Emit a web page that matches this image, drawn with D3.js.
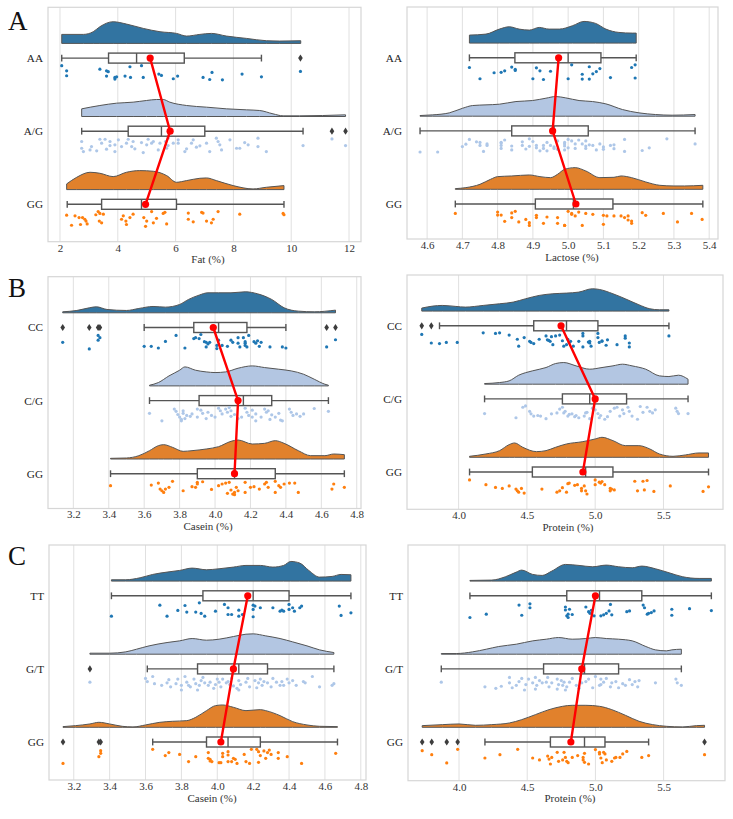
<!DOCTYPE html>
<html><head><meta charset="utf-8">
<script src="https://cdn.jsdelivr.net/npm/d3@7/dist/d3.min.js"></script>
<style>body{margin:0;background:#fff}text{font-family:"Liberation Serif","Times New Roman",serif}</style>
</head><body><svg id="chart" width="733" height="819"></svg>
<script>
// ---------------- DATA ----------------
const fatCats = ["AA","A/G","GG"];
const fatTicks = [2,4,6,8,10,12];
const fatBox = [[2.06,3.68,4.65,6.30,8.97],[2.75,4.36,5.51,7.01,10.41],[2.25,3.44,4.82,6.03,9.75]];
const fatOut = [[10.32],[11.41,11.88],[]];
const fatMean = [5.12,5.81,4.96];
const fatDens = [
 [[2.06,27],[2.81,27],[3.15,35],[3.38,50],[3.84,65],[4.30,58],[4.88,45],[5.46,35],[6.03,30],[6.38,22],[6.84,27],[7.24,30],[7.76,22],[8.45,15],[9.14,8],[9.60,7],[10.33,8]],
 [[2.75,23],[3.38,33],[3.96,40],[4.53,43],[4.99,48],[5.34,51],[5.57,51],[5.80,43],[6.38,33],[7.07,28],[7.76,23],[8.45,20],[8.91,18],[9.37,8],[9.72,2],[10.29,2],[11.88,5]],
 [[2.23,17],[2.58,37],[3.04,52],[3.38,49],[3.84,39],[4.30,52],[4.76,57],[5.23,55],[5.69,42],[6.03,22],[6.38,27],[6.84,34],[7.07,35],[7.41,27],[7.99,12],[8.68,2],[9.14,7],[9.75,12]]
];
const fatPts = [
 [[2.06,.04],[2.23,.38],[2.23,.71],[3.38,.27],[3.61,.38],[3.67,.44],[3.61,.73],[3.90,.82],[3.90,.93],[3.96,.78],[4.42,.11],[4.25,.73],[4.44,.82],[4.82,.04],[4.88,.82],[5.42,.6],[5.51,.69],[5.92,.91],[6.07,.73],[6.95,.82],[7.18,.96],[7.26,.49],[7.62,.98],[8.30,.6],[8.97,.78],[10.32,.42]],
 [[2.75,.22],[2.75,.67],[2.81,.89],[3.04,.78],[3.09,.56],[3.38,.07],[3.44,.33],[3.56,.07],[3.73,.22],[3.73,.49],[3.90,.44],[3.90,.89],[4.02,.11],[4.13,.56],[4.30,.33],[4.36,.07],[4.48,.56],[4.53,.22],[4.59,.71],[4.88,.96],[5.00,.44],[5.05,.07],[5.17,.33],[5.23,.22],[5.40,.78],[5.46,.33],[5.65,.22],[5.69,.67],[5.74,0],[5.74,.49],[5.92,.33],[6.09,.11],[6.09,.33],[6.32,.89],[6.38,.71],[6.55,.33],[6.61,.11],[6.72,.6],[7.07,.33],[7.18,.89],[7.41,0],[7.47,.22],[7.53,.44],[7.59,.78],[7.88,.11],[8.11,.67],[8.22,.67],[8.39,.29],[8.51,.44],[8.85,0],[8.85,.56],[9.14,.89],[10.41,.49],[11.41,.05],[11.88,.49],[3.27,.84],[3.61,.73],[4.82,.29],[6.84,.51]],
 [[2.23,.26],[2.40,.93],[2.66,.42],[2.78,.42],[2.86,.53],[2.90,.65],[2.94,.84],[3.24,.23],[3.32,.02],[3.36,.65],[3.44,.77],[3.38,.14],[3.50,.19],[4.13,.53],[4.19,.30],[4.28,.65],[4.42,.42],[4.30,.88],[4.53,.19],[4.90,.42],[5.00,.65],[5.17,.02],[5.23,.77],[5.34,.47],[5.57,.14],[5.63,.07],[5.69,.84],[6.44,.12],[6.44,.53],[6.61,.70],[6.90,.07],[6.95,.12],[7.07,.65],[7.24,.77],[7.30,.53],[7.47,.02],[8.22,.19],[9.72,.14],[9.75,.23],[2.71,.88],[2.52,.30],[4.96,1]]
];

const lactoseCats = ["AA","A/G","GG"];
const lactoseTicks = [4.6,4.7,4.8,4.9,5.0,5.1,5.2,5.3,5.4];
const lactoseBox = [[4.72,4.849,5.0,5.093,5.193],[4.58,4.84,4.96,5.057,5.36],[4.68,4.907,5.015,5.127,5.382]];
const lactoseOut = [[],[],[]];
const lactoseMean = [4.973,4.956,5.022];
const lactoseDens = [
 [[4.72,24],[4.767,27],[4.805,42],[4.833,49],[4.861,42],[4.89,39],[4.918,47],[4.946,42],[4.975,42],[5.012,52],[5.045,65],[5.078,59],[5.107,42],[5.144,32],[5.182,30],[5.193,30]],
 [[4.58,2],[4.616,4],[4.663,10],[4.701,24],[4.729,32],[4.767,34],[4.805,36],[4.852,44],[4.899,47],[4.937,54],[4.965,59],[4.993,55],[5.031,47],[5.069,44],[5.107,37],[5.154,20],[5.201,10],[5.248,5],[5.295,3],[5.36,5]],
 [[4.68,2],[4.71,5],[4.75,15],[4.78,30],[4.80,38],[4.84,40],[4.89,43],[4.92,38],[4.95,35],[4.97,45],[4.99,60],[5.02,65],[5.05,55],[5.09,35],[5.13,36],[5.15,40],[5.18,35],[5.22,22],[5.26,12],[5.30,10],[5.33,10],[5.382,12]]
];
const lactosePts = [
 [[4.72,.18],[4.75,.93],[4.79,.53],[4.81,.5],[4.82,.4],[4.84,.15],[4.85,.3],[4.85,.38],[4.90,.93],[4.91,.2],[4.92,.4],[4.93,.98],[4.95,.43],[5.00,.93],[5.01,0],[5.04,.63],[5.04,.95],[5.06,.13],[5.06,.95],[5.07,.6],[5.08,.45],[5.09,.25],[5.12,.85],[5.18,.18],[5.19,0],[5.19,.88]],
 [[4.58,.94],[4.63,.94],[4.70,.58],[4.71,.42],[4.72,.10],[4.74,.26],[4.75,.30],[4.75,.50],[4.76,.90],[4.77,.50],[4.77,.40],[4.81,.30],[4.81,.70],[4.81,.50],[4.81,.34],[4.82,.14],[4.84,.80],[4.84,.54],[4.87,.26],[4.87,.50],[4.88,.74],[4.89,.06],[4.89,.56],[4.90,.24],[4.91,.66],[4.91,.50],[4.92,.86],[4.93,.50],[4.93,.70],[4.94,.30],[4.94,.86],[4.95,.50],[4.96,.60],[4.96,.70],[4.97,.20],[4.97,.76],[4.99,.40],[4.99,.54],[4.99,.80],[4.99,.30],[5.00,.66],[5.00,.10],[5.01,.20],[5.02,.70],[5.02,.40],[5.03,.14],[5.04,.40],[5.05,.54],[5.05,.70],[5.05,.20],[5.06,.46],[5.07,.50],[5.08,.80],[5.09,.40],[5.10,.60],[5.10,.76],[5.12,.50],[5.13,.46],[5.13,.72],[5.16,.10],[5.16,.90],[5.21,.84],[5.23,.66],[5.28,.06],[5.36,.40]],
 [[4.68,.16],[4.80,.07],[4.80,.27],[4.81,.27],[4.82,.69],[4.84,.13],[4.84,.44],[4.85,.02],[4.86,.73],[4.88,.56],[4.89,.78],[4.89,.96],[4.91,.29],[4.91,.44],[4.93,.82],[4.94,.4],[4.97,.82],[4.97,.44],[4.99,.96],[5.00,.02],[5.01,.22],[5.01,.16],[5.02,.33],[5.03,.07],[5.04,.96],[5.05,.16],[5.07,.22],[5.10,.29],[5.11,.33],[5.13,.33],[5.10,.89],[5.15,.33],[5.16,.44],[5.17,.33],[5.18,.67],[5.18,.82],[5.17,.6],[5.21,.11],[5.22,.29],[5.27,.16],[5.31,.73],[5.35,.16],[5.38,.56],[4.99,.96]]
];

const caseinBCats = ["CC","C/G","GG"];
const caseinTicks = [3.2,3.4,3.6,3.8,4.0,4.2,4.4,4.6,4.8];
const caseinBBox = [[3.60,3.88,4.02,4.18,4.40],[3.63,3.91,4.16,4.32,4.64],[3.41,3.90,4.11,4.34,4.73]];
const caseinBOut = [[3.14,3.29,3.34,3.35,4.63,4.68],[],[]];
const caseinBMean = [3.99,4.13,4.11];
const caseinBDens = [
 [[3.14,3],[3.22,7],[3.29,15],[3.33,18],[3.39,10],[3.50,7],[3.57,13],[3.65,19],[3.72,17],[3.80,25],[3.85,40],[3.91,53],[3.96,60],[4.02,60],[4.09,60],[4.17,63],[4.24,57],[4.32,40],[4.39,15],[4.47,5],[4.56,3],[4.68,8]],
 [[3.63,2],[3.68,10],[3.74,30],[3.80,47],[3.83,57],[3.89,47],[3.95,42],[4.00,40],[4.06,42],[4.13,53],[4.21,60],[4.28,55],[4.36,50],[4.43,45],[4.50,35],[4.56,20],[4.62,5],[4.64,2]],
 [[3.41,2],[3.50,3],[3.57,10],[3.63,25],[3.68,40],[3.71,43],[3.76,35],[3.82,23],[3.87,25],[3.95,30],[4.02,37],[4.09,53],[4.13,57],[4.21,45],[4.28,47],[4.34,55],[4.39,47],[4.47,25],[4.54,10],[4.62,10],[4.67,15],[4.73,13]]
];
const caseinBPts = [
 [[3.14,.52],[3.29,.96],[3.34,.06],[3.35,.21],[3.34,.38],[3.60,.79],[3.64,.79],[3.68,.9],[3.72,.46],[3.78,.06],[3.83,.9],[3.88,.27],[3.89,.21],[3.91,.27],[3.92,0],[3.94,.48],[3.95,.83],[3.95,.52],[3.96,.63],[3.97,.52],[4.01,.94],[4.01,.73],[4.02,.38],[4.04,.73],[4.07,.79],[4.09,.38],[4.10,.52],[4.13,.21],[4.14,.83],[4.16,.21],[4.17,.48],[4.17,.58],[4.19,.06],[4.18,.83],[4.22,.48],[4.23,.58],[4.24,.42],[4.25,.79],[4.26,.52],[4.31,.83],[4.38,.83],[4.40,.9],[4.63,.83],[4.68,.35],[4.17,.73],[4.13,.58]],
 [[3.63,.38],[3.70,.88],[3.77,.1],[3.78,.25],[3.79,.46],[3.80,.63],[3.81,.79],[3.82,.38],[3.81,.88],[3.82,.21],[3.84,.52],[3.86,.58],[3.87,.42],[3.90,.1],[3.90,.63],[3.92,.17],[3.93,.38],[3.95,.73],[3.96,.31],[3.98,.52],[4.00,.63],[4.02,.04],[4.03,.21],[4.04,.42],[4.06,.1],[4.07,.31],[4.08,0],[4.09,.21],[4.11,.46],[4.13,.73],[4.15,.63],[4.17,.04],[4.18,.31],[4.19,.52],[4.21,.63],[4.23,.42],[4.23,.88],[4.26,.63],[4.28,.1],[4.29,.31],[4.31,.79],[4.32,.48],[4.34,.63],[4.36,.38],[4.37,.83],[4.38,.88],[4.42,.1],[4.43,.31],[4.44,.52],[4.46,.42],[4.48,.58],[4.50,.42],[4.56,.06],[4.64,.25],[4.30,.21],[3.83,.73],[4.09,.58],[4.21,.17]],
 [[3.41,.33],[3.64,.29],[3.68,.16],[3.69,.56],[3.70,.67],[3.71,.78],[3.72,.56],[3.74,.44],[3.76,.04],[3.82,.67],[3.87,.4],[3.90,.11],[3.90,.22],[3.93,.07],[3.98,.58],[4.02,.33],[4.04,.22],[4.06,.16],[4.08,.11],[4.09,.62],[4.07,.84],[4.10,.89],[4.11,.78],[4.12,.44],[4.17,.11],[4.17,.78],[4.20,.44],[4.22,.4],[4.25,.56],[4.28,.22],[4.29,.11],[4.30,.44],[4.34,.04],[4.34,.78],[4.36,.33],[4.37,.44],[4.39,.22],[4.42,.16],[4.45,.16],[4.47,.78],[4.66,.56],[4.67,.22],[4.73,.44],[4.11,.93],[4.13,.67],[3.89,.44]]
];

const proteinBCats = ["CC","C/G","GG"];
const proteinTicks = [4.0,4.5,5.0,5.5];
const proteinBBox = [[3.86,4.55,4.79,5.02,5.54],[4.19,4.76,4.96,5.23,5.68],[4.08,4.54,4.93,5.13,5.83]];
const proteinBOut = [[3.73,3.80],[],[]];
const proteinBMean = [4.75,5.00,4.91];
const proteinBDens = [
 [[3.73,9],[3.81,15],[3.88,17],[3.98,14],[4.05,12],[4.18,17],[4.30,22],[4.40,27],[4.49,37],[4.59,47],[4.69,52],[4.79,54],[4.88,57],[4.98,67],[5.03,65],[5.13,52],[5.22,37],[5.32,19],[5.40,7],[5.47,4],[5.54,4]],
 [[4.19,2],[4.30,5],[4.37,10],[4.44,27],[4.54,40],[4.64,50],[4.71,62],[4.77,65],[4.86,55],[4.96,45],[5.05,50],[5.13,55],[5.20,60],[5.27,55],[5.37,45],[5.47,25],[5.54,23],[5.61,27],[5.68,15]],
 [[4.08,3],[4.20,10],[4.30,20],[4.37,38],[4.41,43],[4.47,30],[4.57,17],[4.64,20],[4.71,30],[4.79,40],[4.91,47],[5.00,55],[5.05,60],[5.13,50],[5.22,35],[5.32,35],[5.40,25],[5.47,10],[5.57,3],[5.66,7],[5.76,13],[5.83,13]]
];
const proteinBPts = [
 [[3.73,.11],[3.80,.68],[3.86,.72],[3.91,.64],[3.99,.64],[4.18,0],[4.27,.04],[4.30,0],[4.37,.15],[4.43,.43],[4.48,.32],[4.52,.57],[4.53,.64],[4.55,.72],[4.59,.43],[4.64,.21],[4.65,.47],[4.66,.51],[4.67,.57],[4.68,.26],[4.69,.79],[4.71,.21],[4.74,.15],[4.76,.53],[4.77,.89],[4.79,.79],[4.80,.43],[4.81,.64],[4.82,.57],[4.84,.89],[4.88,.57],[4.91,.04],[4.91,.21],[4.95,.62],[4.96,.68],[4.96,.57],[4.97,.89],[5.02,.04],[5.02,.32],[5.03,.64],[5.05,.53],[5.05,.57],[5.08,.83],[5.09,.47],[5.16,.79],[5.22,.21],[5.22,.36],[5.25,.68],[5.25,.94],[5.54,.21],[4.44,.89],[4.91,.94]],
 [[4.19,.51],[4.47,.09],[4.49,0],[4.52,.36],[4.53,.53],[4.55,.68],[4.58,.64],[4.60,.68],[4.68,.53],[4.72,.47],[4.74,.21],[4.76,.09],[4.77,.47],[4.78,.36],[4.80,.68],[4.81,.57],[4.83,.53],[4.85,.72],[4.86,.64],[4.88,.79],[4.92,.68],[4.93,.47],[4.94,.43],[4.96,.85],[4.98,.15],[5.00,.26],[5.02,.51],[5.04,.64],[5.07,.89],[5.09,.72],[5.11,.36],[5.14,.15],[5.16,.09],[5.18,.68],[5.20,.26],[5.21,.51],[5.24,.09],[5.25,.36],[5.27,.68],[5.31,.89],[5.33,.04],[5.35,.43],[5.38,.09],[5.40,.36],[5.42,.47],[5.44,.26],[5.59,.15],[5.60,.36],[5.61,.51],[5.68,.51],[4.42,.79],[4.64,.85],[5.03,.79]],
 [[4.08,.06],[4.20,.38],[4.27,.56],[4.32,.63],[4.37,.46],[4.42,.67],[4.43,.79],[4.44,.88],[4.46,.63],[4.48,.94],[4.61,.67],[4.72,.88],[4.74,.79],[4.79,.88],[4.80,.31],[4.81,.27],[4.85,.42],[4.87,.38],[4.90,.63],[4.90,.79],[4.92,.46],[4.93,.79],[5.00,.06],[5.00,.38],[5.03,.21],[5.04,.27],[5.05,.17],[5.07,.38],[5.11,.63],[5.11,.79],[5.12,.67],[5.14,.73],[5.29,.15],[5.31,.79],[5.35,.15],[5.36,.73],[5.38,.1],[5.43,.83],[5.55,.46],[5.79,.83],[5.83,.52],[4.76,.58],[4.94,1]]
];

const caseinCCats = ["TT","G/T","GG"];
const caseinCBox = [[3.41,3.92,4.20,4.40,4.745],[3.61,3.89,4.12,4.28,4.65],[3.64,3.94,4.06,4.24,4.67]];
const caseinCOut = [[],[3.29],[3.14,3.34,3.35]];
const caseinCMean = [4.17,4.09,4.02];
const caseinCDens = [
 [[3.41,4],[3.49,4],[3.57,10],[3.64,20],[3.72,27],[3.79,32],[3.86,39],[3.94,34],[4.01,37],[4.09,42],[4.16,47],[4.24,47],[4.31,42],[4.37,47],[4.41,59],[4.46,54],[4.51,32],[4.57,12],[4.64,14],[4.69,20],[4.745,19]],
 [[3.29,3],[3.40,3],[3.49,7],[3.55,15],[3.62,25],[3.72,35],[3.79,40],[3.86,47],[3.94,42],[4.01,45],[4.09,53],[4.16,60],[4.20,61],[4.27,55],[4.35,47],[4.42,37],[4.50,25],[4.57,13],[4.65,5]],
 [[3.14,2],[3.21,5],[3.29,10],[3.34,15],[3.40,10],[3.47,3],[3.53,1],[3.60,7],[3.68,15],[3.75,18],[3.83,20],[3.88,30],[3.94,50],[3.99,65],[4.03,67],[4.09,60],[4.16,50],[4.24,53],[4.27,50],[4.35,35],[4.42,17],[4.50,7],[4.57,3],[4.67,2]]
];
const caseinCPts = [
 [[3.41,.89],[3.68,.16],[3.72,.89],[3.78,.51],[3.82,.18],[3.83,.62],[3.88,.62],[3.90,0],[3.91,.71],[3.93,.89],[3.99,.56],[4.06,.33],[4.06,.78],[4.08,.78],[4.12,.89],[4.14,.78],[4.20,.16],[4.20,.44],[4.20,.93],[4.21,.22],[4.24,.33],[4.31,.33],[4.35,.56],[4.36,.49],[4.37,.56],[4.40,.11],[4.40,.44],[4.42,.33],[4.43,.56],[4.46,.33],[4.47,.22],[4.04,.11],[4.12,.49],[4.68,.22],[4.69,.84],[4.745,.67]],
 [[3.29,.42],[3.60,.17],[3.61,.38],[3.64,.04],[3.65,.52],[3.69,.63],[3.72,.46],[3.73,.25],[3.74,.73],[3.77,.52],[3.78,.21],[3.80,.63],[3.82,.04],[3.83,.42],[3.84,.63],[3.85,.73],[3.87,.21],[3.88,.52],[3.90,.63],[3.91,.31],[3.92,.1],[3.93,.46],[3.95,.63],[3.96,.42],[3.98,.83],[3.99,.58],[4.00,.21],[4.01,.42],[4.02,.73],[4.03,.21],[4.05,.46],[4.06,.38],[4.07,.58],[4.08,.17],[4.09,.67],[4.11,.83],[4.12,.31],[4.13,.58],[4.16,.42],[4.17,.17],[4.18,.73],[4.21,.31],[4.22,.79],[4.23,.46],[4.24,.21],[4.25,.63],[4.26,.38],[4.28,.46],[4.30,.73],[4.31,.17],[4.33,.42],[4.35,.63],[4.36,.38],[4.37,.63],[4.39,.21],[4.40,.46],[4.42,.31],[4.44,.63],[4.48,.38],[4.49,.46],[4.53,.04],[4.57,.73],[4.64,.63],[4.65,.52],[3.89,.94],[4.12,.94],[3.80,.94]],
 [[3.14,.96],[3.34,.51],[3.35,.29],[3.35,.11],[3.64,.02],[3.71,.44],[3.73,.24],[3.79,.36],[3.84,.84],[3.88,.51],[3.95,.62],[3.95,.24],[3.96,.69],[3.96,.8],[3.97,.84],[4.01,.91],[4.02,.91],[4.03,.29],[4.03,.51],[4.06,.18],[4.06,.4],[4.08,.84],[4.09,.62],[4.10,.69],[4.11,.96],[4.15,.36],[4.16,.84],[4.18,.96],[4.22,.02],[4.23,.18],[4.23,.89],[4.24,.44],[4.26,.13],[4.27,.62],[4.28,.24],[4.29,.07],[4.30,.36],[4.34,.24],[4.34,.62],[4.39,.51],[4.66,.29],[4.06,.84],[4.19,.02],[4.47,.96]]
];

const proteinCCats = ["TT","G/T","GG"];
const proteinCBox = [[4.08,4.79,5.03,5.34,5.85],[3.87,4.62,4.92,5.17,5.63],[4.19,4.67,4.92,5.07,5.39]];
const proteinCOut = [[],[],[3.73,3.80,3.91,3.99,5.80]];
const proteinCMean = [5.00,4.90,4.82];
const proteinCDens = [
 [[4.08,2],[4.24,3],[4.34,13],[4.42,27],[4.46,33],[4.54,20],[4.61,17],[4.68,30],[4.78,50],[4.88,47],[4.98,43],[5.08,48],[5.17,43],[5.27,40],[5.34,45],[5.44,37],[5.54,25],[5.64,13],[5.76,8],[5.85,8]],
 [[3.87,2],[3.98,2],[4.10,7],[4.20,15],[4.29,23],[4.42,30],[4.54,40],[4.64,45],[4.73,50],[4.83,45],[4.93,47],[5.00,50],[5.08,47],[5.17,45],[5.27,40],[5.37,23],[5.44,13],[5.52,10],[5.56,13],[5.63,15]],
 [[3.73,5],[3.88,8],[4.00,10],[4.12,6],[4.24,8],[4.37,13],[4.46,23],[4.56,38],[4.66,53],[4.76,63],[4.83,66],[4.93,66],[5.03,63],[5.12,53],[5.22,36],[5.32,18],[5.42,8],[5.52,3],[5.64,1],[5.74,5],[5.80,6]]
];
const proteinCPts = [
 [[4.08,.98],[4.20,.76],[4.44,.15],[4.46,.83],[4.52,.07],[4.52,.33],[4.78,.28],[4.78,.48],[4.79,.87],[4.80,.98],[4.80,.76],[4.81,.43],[4.83,.78],[4.93,.28],[4.95,.59],[4.96,.7],[4.97,.5],[4.99,.87],[5.04,.87],[5.06,.8],[5.08,.7],[5.11,.11],[5.10,.54],[5.12,.8],[5.23,.59],[5.25,.54],[5.35,.15],[5.36,.33],[5.38,.76],[5.39,.7],[5.41,.65],[5.43,.54],[5.56,.43],[5.56,.83],[5.69,.39],[5.85,.52]],
 [[3.87,.42],[4.19,.73],[4.27,.83],[4.31,.69],[4.37,.1],[4.37,.46],[4.39,.79],[4.42,.63],[4.44,.38],[4.46,.17],[4.48,.94],[4.49,.58],[4.51,.21],[4.54,.46],[4.56,.1],[4.57,.63],[4.59,.31],[4.61,.46],[4.64,.42],[4.65,.1],[4.66,.73],[4.68,.46],[4.72,.88],[4.73,.58],[4.75,.31],[4.76,.63],[4.77,.42],[4.78,.94],[4.79,.73],[4.81,.42],[4.83,.17],[4.86,.63],[4.88,.83],[4.90,.46],[4.93,.38],[4.95,.21],[4.98,.79],[5.00,.04],[5.03,.63],[5.04,.21],[5.06,.42],[5.08,.17],[5.11,.73],[5.12,.46],[5.15,.38],[5.17,.79],[5.20,.52],[5.22,.63],[5.25,.25],[5.27,.58],[5.29,.38],[5.31,.73],[5.32,.31],[5.44,.46],[5.59,.21],[5.60,.46],[5.63,.63],[4.56,.88],[4.72,.21],[5.04,.58]],
 [[3.73,.11],[3.80,.38],[3.91,.93],[3.99,.02],[4.19,.6],[4.30,.38],[4.43,.02],[4.54,.6],[4.59,.73],[4.65,.47],[4.66,.67],[4.67,1],[4.72,.22],[4.73,.82],[4.77,.22],[4.78,.56],[4.79,.82],[4.80,.91],[4.83,.56],[4.87,.44],[4.91,.56],[4.91,.73],[4.92,.29],[4.92,.89],[4.95,1],[5.00,.04],[5.03,.22],[5.03,.33],[5.04,.6],[5.05,.91],[5.06,.22],[5.07,.33],[5.08,.73],[5.12,.82],[5.14,.6],[5.15,.56],[5.18,.56],[5.23,.16],[5.20,.33],[5.34,.56],[5.39,.44],[5.80,.38],[4.76,.73],[4.68,.56]]
];

// ---------------- LAYOUT ----------------
const panels = [
 {letter:"A", title:"Fat (%)", cats:fatCats, box:fatBox, out:fatOut, mean:fatMean, dens:fatDens, pts:fatPts, ticks:fatTicks, fmt:d3.format("d"), x0:48, x1:361, y0:7.3, y1:241.7, dom:[1.585,12.415], tx:208},
 {title:"Lactose (%)", cats:lactoseCats, box:lactoseBox, out:lactoseOut, mean:lactoseMean, dens:lactoseDens, pts:lactosePts, ticks:lactoseTicks, fmt:d3.format(".1f"), x0:407, x1:718, y0:7, y1:239, dom:[4.543,5.425], tx:572},
 {letter:"B", title:"Casein (%)", cats:caseinBCats, box:caseinBBox, out:caseinBOut, mean:caseinBMean, dens:caseinBDens, pts:caseinBPts, ticks:caseinTicks, fmt:d3.format(".1f"), x0:48, x1:361, y0:276.7, y1:508.5, dom:[3.057,4.824], tx:208},
 {title:"Protein (%)", cats:proteinBCats, box:proteinBBox, out:proteinBOut, mean:proteinBMean, dens:proteinBDens, pts:proteinBPts, ticks:proteinTicks, fmt:d3.format(".1f"), x0:407, x1:723, y0:275, y1:509.3, dom:[3.622,5.936], tx:568},
 {letter:"C", title:"Casein (%)", cats:caseinCCats, box:caseinCBox, out:caseinCOut, mean:caseinCMean, dens:caseinCDens, pts:caseinCPts, ticks:caseinTicks, fmt:d3.format(".1f"), x0:49, x1:366, y0:545, y1:780, dom:[3.062,4.829], tx:212},
 {title:"Protein (%)", cats:proteinCCats, box:proteinCBox, out:proteinCOut, mean:proteinCMean, dens:proteinCDens, pts:proteinCPts, ticks:proteinTicks, fmt:d3.format(".1f"), x0:408, x1:725, y0:545, y1:780.7, dom:[3.626,5.95], tx:570}
];
const letterY = {A:30, B:297, C:565};
const violinFill = ["#3274a1","#b3c6e2","#e1812c"];
const pointFill = ["#1f77b4","#aec7e8","#ff7f0e"];
const gray = "#555555";

const svg = d3.select("#chart");

panels.forEach(p => {
  const g = svg.append("g");
  const x = d3.scaleLinear().domain(p.dom).range([p.x0, p.x1]);
  const y = d3.scalePoint().domain(p.cats).range([p.y0 + 50.8, p.y0 + 197]);
  const h = d3.scaleLinear().domain([0, 66]).range([0, 22]);

  // grid
  g.selectAll(".grid").data(p.ticks).join("line")
    .attr("x1", d => x(d)).attr("x2", d => x(d))
    .attr("y1", p.y0).attr("y2", p.y1)
    .attr("stroke", "#e0e0e0").attr("stroke-width", 1);
  // frame
  g.append("rect").attr("x", p.x0).attr("y", p.y0)
    .attr("width", p.x1 - p.x0).attr("height", p.y1 - p.y0)
    .attr("fill", "none").attr("stroke", "#d6d6d6").attr("stroke-width", 1.2);

  // x axis labels
  const ax = d3.axisBottom(x).tickValues(p.ticks).tickFormat(p.fmt).tickSize(0).tickPadding(2);
  const axg = g.append("g").attr("transform", `translate(0,${p.y1})`).call(ax);
  axg.select(".domain").remove();
  axg.selectAll("text").attr("font-family", "Liberation Serif, serif").attr("font-size", 11).attr("fill", "#333");
  g.append("text").attr("x", p.tx).attr("y", p.y1 + 21.5)
    .attr("text-anchor", "middle").attr("font-size", 11).attr("fill", "#333").text(p.title);

  // category labels
  g.selectAll(".cat").data(p.cats).join("text")
    .attr("x", p.x0 - 5).attr("y", d => y(d)).attr("dy", "0.35em")
    .attr("text-anchor", "end").attr("font-size", 11.2).attr("fill", "#222").text(d => d);

  if (p.letter) {
    svg.append("text").attr("x", 8).attr("y", letterY[p.letter])
      .attr("font-size", 27).attr("fill", "#111").text(p.letter);
  }

  p.cats.forEach((c, i) => {
    const cy = y(c);
    const base = cy - 14.7;
    // half violin
    const area = d3.area().x(d => x(d[0])).y0(base).y1(d => base - h(d[1])).curve(d3.curveMonotoneX);
    g.append("path").attr("d", area(p.dens[i])).attr("fill", violinFill[i])
      .attr("stroke", gray).attr("stroke-width", 1).attr("stroke-linejoin", "round");

    // box
    const b = p.box[i];
    const bg = g.append("g").attr("stroke", gray).attr("stroke-width", 1.4);
    bg.append("line").attr("x1", x(b[0])).attr("x2", x(b[1])).attr("y1", cy).attr("y2", cy);
    bg.append("line").attr("x1", x(b[3])).attr("x2", x(b[4])).attr("y1", cy).attr("y2", cy);
    bg.append("line").attr("x1", x(b[0])).attr("x2", x(b[0])).attr("y1", cy - 3.4).attr("y2", cy + 3.4);
    bg.append("line").attr("x1", x(b[4])).attr("x2", x(b[4])).attr("y1", cy - 3.4).attr("y2", cy + 3.4);
    bg.append("rect").attr("x", x(b[1])).attr("y", cy - 5).attr("width", x(b[3]) - x(b[1])).attr("height", 10).attr("fill", "#fff");
    bg.append("line").attr("x1", x(b[2])).attr("x2", x(b[2])).attr("y1", cy - 5).attr("y2", cy + 5);

    // outliers (diamonds)
    g.selectAll(null).data(p.out[i]).join("path")
      .attr("d", d => `M${x(d)},${cy-3.6}L${x(d)+2.3},${cy}L${x(d)},${cy+3.6}L${x(d)-2.3},${cy}Z`)
      .attr("fill", "#3d3d3d");

    // rain points
    g.selectAll(null).data(p.pts[i]).join("circle")
      .attr("cx", d => x(d[0])).attr("cy", d => cy + 7 + d[1] * 15)
      .attr("r", 1.6).attr("fill", pointFill[i]);
  });

  // mean line
  const line = d3.line().x(d => x(d[0])).y(d => y(d[1]));
  const mdata = p.mean.map((m, i) => [m, p.cats[i]]);
  g.append("path").attr("d", line(mdata)).attr("fill", "none").attr("stroke", "#ff0000").attr("stroke-width", 2.4);
  g.selectAll(null).data(mdata).join("circle")
    .attr("cx", d => x(d[0])).attr("cy", d => y(d[1])).attr("r", 3.6).attr("fill", "#ff0000");
});
</script></body></html>
